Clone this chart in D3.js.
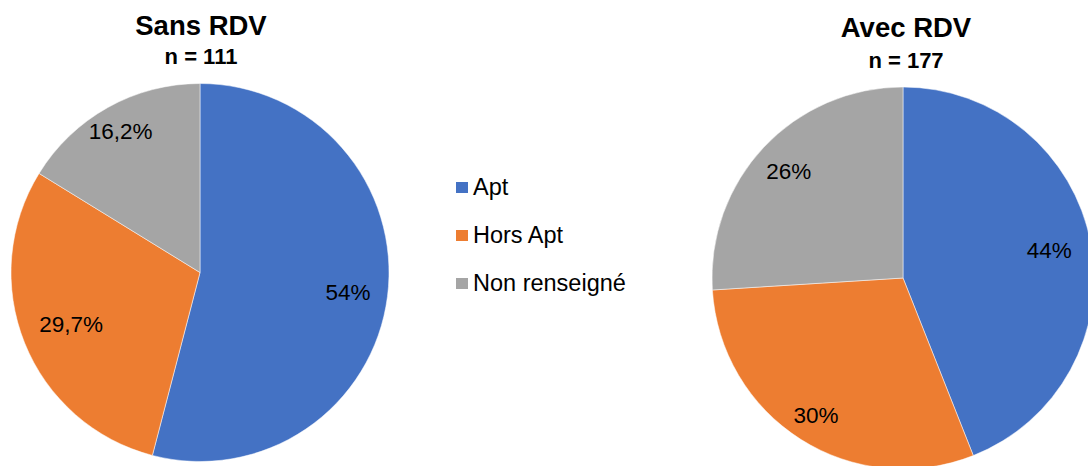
<!DOCTYPE html>
<html>
<head>
<meta charset="utf-8">
<script src="https://cdn.jsdelivr.net/npm/d3@7"></script>
<style>
  html, body { margin: 0; padding: 0; background: #fff; }
  svg { display: block; }
  text { font-family: "Liberation Sans", Arial, sans-serif; fill: #000; }
</style>
</head>
<body>
<svg id="chart" width="1088" height="466"></svg>
<script>
// ---- data ----
const categories = ["Apt", "Hors Apt", "Non renseigné"];
const sansValues = [54, 29.7, 16.2];
const sansLabels = ["54%", "29,7%", "16,2%"];
const avecValues = [44, 30, 26];
const avecLabels = ["44%", "30%", "26%"];
const titles = ["Sans RDV", "Avec RDV"];
const subtitles = ["n = 111", "n = 177"];

// ---- layout / style ----
const colors = ["#4472C4", "#ED7D31", "#A5A5A5"];
const pies = [
  { cx: 200, cy: 272.5, r: 189, values: sansValues, labels: sansLabels,
    labelR: [0.79, 0.735, 0.86], titleX: 201, titleY: 35, subY: 64 },
  { cx: 903, cy: 278, r: 191, values: avecValues, labels: avecLabels,
    labelR: [0.78, 0.85, 0.82], titleX: 906, titleY: 37, subY: 68 }
];

const svg = d3.select("#chart");
const color = d3.scaleOrdinal().domain(categories).range(colors);
const pie = d3.pie().sort(null).value(d => d.value);

pies.forEach((p, pi) => {
  const data = categories.map((c, i) => ({ cat: c, value: p.values[i], label: p.labels[i], lr: p.labelR[i] }));
  const arcs = pie(data);
  const arc = d3.arc().innerRadius(0).outerRadius(p.r);
  const g = svg.append("g").attr("transform", `translate(${p.cx},${p.cy})`);
  g.selectAll("path").data(arcs).join("path")
    .attr("d", arc)
    .attr("fill", d => color(d.data.cat))
    .attr("stroke", "#fff")
    .attr("stroke-width", 0.5);
  g.selectAll("text.lbl").data(arcs).join("text")
    .attr("class", "lbl")
    .attr("transform", d => {
      const a = (d.startAngle + d.endAngle) / 2;
      const rr = d.data.lr * p.r;
      return `translate(${Math.sin(a) * rr},${-Math.cos(a) * rr})`;
    })
    .attr("text-anchor", "middle")
    .attr("dy", "0.36em")
    .style("font-size", "22.5px")
    .text(d => d.data.label);

  svg.append("text")
    .attr("x", p.titleX).attr("y", p.titleY)
    .attr("text-anchor", "middle")
    .style("font-size", "27.5px").style("font-weight", "bold")
    .text(titles[pi]);
  svg.append("text")
    .attr("x", p.titleX).attr("y", p.subY)
    .attr("text-anchor", "middle")
    .style("font-size", "22px").style("font-weight", "bold")
    .text(subtitles[pi]);
});

// legend
const legendY = d3.scalePoint().domain(categories).range([195, 291]);
const lg = svg.append("g");
categories.forEach(c => {
  const y = legendY(c);
  lg.append("rect").attr("x", 456).attr("y", y - 13).attr("width", 12).attr("height", 11)
    .attr("fill", color(c));
  lg.append("text").attr("x", 473).attr("y", y)
    .style("font-size", "23.5px").text(c);
});
</script>
</body>
</html>
